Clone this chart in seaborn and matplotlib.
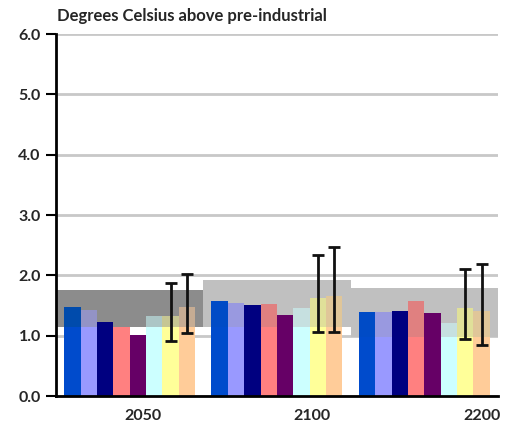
import numpy as np
import pandas as pd
import matplotlib
matplotlib.use('Agg')
import matplotlib.pyplot as plt
import matplotlib.colors as mcolors
import seaborn as sns

# Data
YEARS = ['2050', '2100', '2200']
SERIES = ['S1', 'S2', 'S3', 'S4', 'S5', 'S6', 'S7', 'S8']
COLORS = ['#004BCC', '#9999FF', '#000080', '#FF8080',
          '#660066', '#CCFFFF', '#FFFF99', '#FFCC99']
VALUES = {
    '2050': [1.48, 1.42, 1.23, 1.15, 1.01, 1.33, 1.33, 1.48],
    '2100': [1.57, 1.55, 1.51, 1.53, 1.34, 1.46, 1.63, 1.66],
    '2200': [1.40, 1.40, 1.41, 1.58, 1.38, 1.21, 1.46, 1.41],
}
# uncertainty range bands per year (low, high)
BAND_LO = [1.14, 1.14, 0.98]
BAND_HI = [1.76, 1.92, 1.79]
BAND_COLORS = ['#8C8C8C', '#C0C0C0', '#C0C0C0']
# error bars on series S7 and S8
ERR_SERIES = ['S7', 'S8']
ERR_LO = {'2050': [0.91, 1.05], '2100': [1.06, 1.06], '2200': [0.94, 0.85]}
ERR_HI = {'2050': [1.88, 2.02], '2100': [2.33, 2.47], '2200': [2.11, 2.19]}

df = pd.DataFrame([(y, s, VALUES[y][i]) for y in YEARS
                   for i, s in enumerate(SERIES)],
                  columns=['year', 'series', 'value'])

sns.set_style('white')
plt.rcParams['font.family'] = ['Lato', 'DejaVu Sans']

fig = plt.figure(figsize=(5.06, 4.37), dpi=100)
ax = fig.add_axes([0.1107, 0.0938, 0.8733, 0.8282])

group_w = 8 / 9
bar_w = group_w / len(SERIES)

# bands behind the bars
for g in range(len(YEARS)):
    ax.bar(g, BAND_HI[g] - BAND_LO[g], bottom=BAND_LO[g], width=1.0,
           color=BAND_COLORS[g], linewidth=0, zorder=1)

sns.barplot(data=df, x='year', y='value', hue='series', order=YEARS,
            hue_order=SERIES, palette=COLORS, width=group_w, saturation=1,
            errorbar=None, legend=False, linewidth=0, zorder=2, ax=ax)


def blend(c, gray):
    c = np.array(mcolors.to_rgb(c))
    g = np.array(mcolors.to_rgb(gray))
    return tuple(np.minimum(c, 0.5 * c + 0.5 * g))


# part of each bar that sits inside the band is tinted
for g, y in enumerate(YEARS):
    for i, s in enumerate(SERIES):
        v = VALUES[y][i]
        top = min(v, BAND_HI[g])
        if top > BAND_LO[g]:
            x = g + (i - (len(SERIES) - 1) / 2) * bar_w
            ax.bar(x, top - BAND_LO[g], bottom=BAND_LO[g], width=bar_w,
                   color=blend(COLORS[i], BAND_COLORS[g]), linewidth=0,
                   zorder=3)

# error bars
for g, y in enumerate(YEARS):
    for k, s in enumerate(ERR_SERIES):
        i = SERIES.index(s)
        x = g + (i - (len(SERIES) - 1) / 2) * bar_w
        lo, hi = ERR_LO[y][k], ERR_HI[y][k]
        v = VALUES[y][i]
        ax.errorbar(x, v, yerr=[[v - lo], [hi - v]], fmt='none',
                    ecolor='#111111', elinewidth=2, capsize=4,
                    capthick=2, zorder=4)

ax.set_ylim(0, 6)
ax.set_xlim(-0.5, 2.5)
ax.set_yticks(np.arange(0, 6.1, 1.0))
ax.set_yticklabels([f'{t:.1f}' for t in np.arange(0, 6.1, 1.0)],
                   fontsize=11.5, fontweight='bold')
ax.set_xticks([0.09, 1.24, 2.39])
ax.set_xticklabels(YEARS, fontsize=11.5, fontweight='bold')
ax.tick_params(axis='x', length=0, pad=9)
ax.tick_params(axis='y', length=7, width=1.5, direction='out', pad=4,
               left=True, color='black')
ax.set_xlabel('')
ax.set_ylabel('')

ax.yaxis.grid(True, color='#C8C8C8', linewidth=2)
ax.set_axisbelow(True)
for side in ['top', 'right']:
    ax.spines[side].set_visible(False)
for side in ['left', 'bottom']:
    ax.spines[side].set_color('black')
    ax.spines[side].set_linewidth(2)
    ax.spines[side].set_zorder(5)

fig.text(0.113, 0.963, 'Degrees Celsius above pre-industrial',
         fontsize=12, fontweight='bold', ha='left', va='center')

fig.savefig('out.png', dpi=100)
